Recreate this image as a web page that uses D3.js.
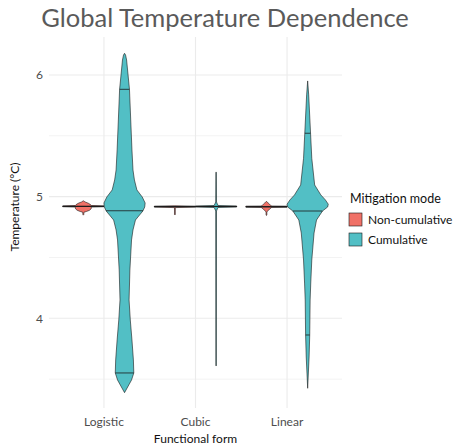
<!DOCTYPE html>
<html>
<head>
<meta charset="utf-8">
<title>Global Temperature Dependence</title>
<script src="https://d3js.org/d3.v7.min.js"></script>
<style>
  body { margin: 0; background: #fff; }
  text { font-family: Lato, "Open Sans", sans-serif; }
</style>
</head>
<body>
<svg width="455" height="446"></svg>
<script>
// categories and groups
var categories = ["Logistic", "Cubic", "Linear"];
var modes = ["Non-cumulative", "Cumulative"];
var yTicks = [4, 5, 6];
var yMinor = [3.5, 4.5, 5.5];

// density profiles (temperature, relative density)
var logisticNonTemp = [4.966, 4.957, 4.945, 4.933, 4.927, 4.924, 4.917, 4.914, 4.900, 4.888, 4.878, 4.872, 4.852, 4.848];
var logisticNonDens = [0, 0.08, 0.25, 0.36, 0.39, 1, 1, 0.39, 0.38, 0.30, 0.15, 0.03, 0.02, 0];
var logisticNonQuant = [4.919, 4.920, 4.921];

var logisticCumTemp = [6.178, 6.164, 6.123, 5.882, 5.630, 5.384, 5.219, 5.137, 5.055, 4.997, 4.948, 4.915, 4.882, 4.808, 4.726, 4.644, 4.397, 4.151, 3.986, 3.822, 3.658, 3.551, 3.493, 3.389];
var logisticCumDens = [0, 0.05, 0.10, 0.24, 0.30, 0.36, 0.41, 0.48, 0.60, 0.86, 1, 0.98, 0.89, 0.53, 0.41, 0.34, 0.26, 0.22, 0.28, 0.36, 0.43, 0.45, 0.34, 0];
var logisticCumQuant = [3.551, 4.884, 5.882];

var cubicNonTemp = [4.925, 4.922, 4.914, 4.910, 4.853, 4.849];
var cubicNonDens = [0, 1, 1, 0.02, 0.02, 0];
var cubicNonQuant = [4.917, 4.918, 4.919];

var cubicCumTemp = [5.203, 5.195, 4.956, 4.940, 4.927, 4.923, 4.915, 4.911, 4.899, 4.882, 3.616, 3.608];
var cubicCumDens = [0, 0.012, 0.02, 0.06, 0.10, 1, 1, 0.10, 0.06, 0.02, 0.012, 0];
var cubicCumQuant = [4.918, 4.919, 4.920];

var linearNonTemp = [4.962, 4.948, 4.932, 4.923, 4.922, 4.914, 4.912, 4.899, 4.882, 4.874, 4.849, 4.845];
var linearNonDens = [0, 0.08, 0.18, 0.26, 1, 1, 0.26, 0.16, 0.06, 0.02, 0.02, 0];
var linearNonQuant = [4.916, 4.917, 4.918];

var linearCumTemp = [5.951, 5.836, 5.521, 5.315, 5.096, 5.014, 4.973, 4.938, 4.915, 4.882, 4.808, 4.701, 4.479, 4.290, 4.151, 3.863, 3.682, 3.425];
var linearCumDens = [0, 0.05, 0.14, 0.20, 0.34, 0.64, 0.86, 1, 0.97, 0.72, 0.43, 0.31, 0.20, 0.15, 0.12, 0.10, 0.07, 0];
var linearCumQuant = [3.863, 4.882, 5.521];

var colors = ["#F07167", "#52BFC5"];

var violins = [
  {cat: "Logistic", mode: "Non-cumulative", temp: logisticNonTemp, dens: logisticNonDens, quant: logisticNonQuant},
  {cat: "Logistic", mode: "Cumulative", temp: logisticCumTemp, dens: logisticCumDens, quant: logisticCumQuant},
  {cat: "Cubic", mode: "Non-cumulative", temp: cubicNonTemp, dens: cubicNonDens, quant: cubicNonQuant},
  {cat: "Cubic", mode: "Cumulative", temp: cubicCumTemp, dens: cubicCumDens, quant: cubicCumQuant},
  {cat: "Linear", mode: "Non-cumulative", temp: linearNonTemp, dens: linearNonDens, quant: linearNonQuant},
  {cat: "Linear", mode: "Cumulative", temp: linearCumTemp, dens: linearCumDens, quant: linearCumQuant}
];

var svg = d3.select("svg"),
    panel = {left: 49, right: 342, top: 37, bottom: 408};

var x = d3.scalePoint().domain(categories).range([panel.left, panel.right]).padding(0.6);
var step = x.step();
var dodge = d3.scaleBand().domain(modes).range([-0.45 * step, 0.45 * step]);
var w = d3.scaleLinear().domain([0, 1]).range([0, dodge.bandwidth() / 2]);
var y = d3.scaleLinear().domain([3.263, 6.312]).range([panel.bottom, panel.top]);
var color = d3.scaleOrdinal().domain(modes).range(colors);

// grid
var grid = svg.append("g");
grid.selectAll(".minor").data(yMinor).enter().append("line")
  .attr("x1", panel.left).attr("x2", panel.right)
  .attr("y1", function(d) { return y(d); }).attr("y2", function(d) { return y(d); })
  .attr("stroke", "#f3f3f3").attr("stroke-width", 1);
grid.selectAll(".major").data(yTicks).enter().append("line")
  .attr("x1", panel.left).attr("x2", panel.right)
  .attr("y1", function(d) { return y(d); }).attr("y2", function(d) { return y(d); })
  .attr("stroke", "#ebebeb").attr("stroke-width", 1.1);
grid.selectAll(".vmajor").data(categories).enter().append("line")
  .attr("x1", function(d) { return x(d); }).attr("x2", function(d) { return x(d); })
  .attr("y1", panel.top).attr("y2", panel.bottom)
  .attr("stroke", "#ebebeb").attr("stroke-width", 1.1);

// violins
var area = d3.area()
  .y(function(d) { return y(d.t); })
  .x0(function(d) { return d.c - w(d.d); })
  .x1(function(d) { return d.c + w(d.d); });

violins.forEach(function(v) {
  var c = x(v.cat) + dodge(v.mode) + dodge.bandwidth() / 2;
  var pts = v.temp.map(function(t, i) { return {t: t, d: v.dens[i], c: c}; });
  svg.append("path")
    .attr("d", area(pts))
    .attr("fill", color(v.mode))
    .attr("stroke", "#1a1a1a")
    .attr("stroke-width", 0.6)
    .attr("stroke-linejoin", "round");

  // quantile lines
  var asc = pts.slice().sort(function(a, b) { return a.t - b.t; });
  var dens = d3.scaleLinear().domain(asc.map(function(p) { return p.t; })).range(asc.map(function(p) { return p.d; }));
  v.quant.forEach(function(q) {
    svg.append("line")
      .attr("x1", c - w(dens(q))).attr("x2", c + w(dens(q)))
      .attr("y1", y(q)).attr("y2", y(q))
      .attr("stroke", "#1a1a1a").attr("stroke-width", 0.8);
  });
});

// axes text
svg.selectAll(".ytick").data(yTicks).enter().append("text")
  .attr("x", 43).attr("y", function(d) { return y(d); })
  .attr("dy", "0.35em")
  .attr("text-anchor", "end")
  .attr("font-size", 12)
  .attr("fill", "#4d4d4d")
  .text(function(d) { return d; });

svg.selectAll(".xtick").data(categories).enter().append("text")
  .attr("x", function(d) { return x(d); }).attr("y", 426)
  .attr("text-anchor", "middle")
  .attr("font-size", 12)
  .attr("fill", "#4d4d4d")
  .text(function(d) { return d; });

svg.append("text")
  .attr("x", (panel.left + panel.right) / 2).attr("y", 443)
  .attr("text-anchor", "middle")
  .attr("font-size", 12)
  .attr("fill", "#111")
  .text("Functional form");

svg.append("text")
  .attr("transform", "translate(19,207) rotate(-90)")
  .attr("text-anchor", "middle")
  .attr("font-size", 12)
  .attr("fill", "#111")
  .text("Temperature (°C)");

svg.append("text")
  .attr("x", 225).attr("y", 27)
  .attr("text-anchor", "middle")
  .attr("font-size", 25.5)
  .attr("fill", "#5a5a5a")
  .text("Global Temperature Dependence");

// legend
var legend = svg.append("g").attr("transform", "translate(349,203)");
legend.append("text")
  .attr("x", 1).attr("y", 0)
  .attr("font-size", 12.5)
  .attr("fill", "#111")
  .text("Mitigation mode");
var items = legend.selectAll(".item").data(modes).enter().append("g")
  .attr("transform", function(d, i) { return "translate(0," + (10 + i * 20) + ")"; });
items.append("rect")
  .attr("width", 13).attr("height", 13)
  .attr("fill", function(d) { return color(d); })
  .attr("stroke", "#1a1a1a").attr("stroke-width", 0.6);
items.append("text")
  .attr("x", 19).attr("y", 6.5).attr("dy", "0.35em")
  .attr("font-size", 12)
  .attr("fill", "#111")
  .text(function(d) { return d; });
</script>
</body>
</html>
